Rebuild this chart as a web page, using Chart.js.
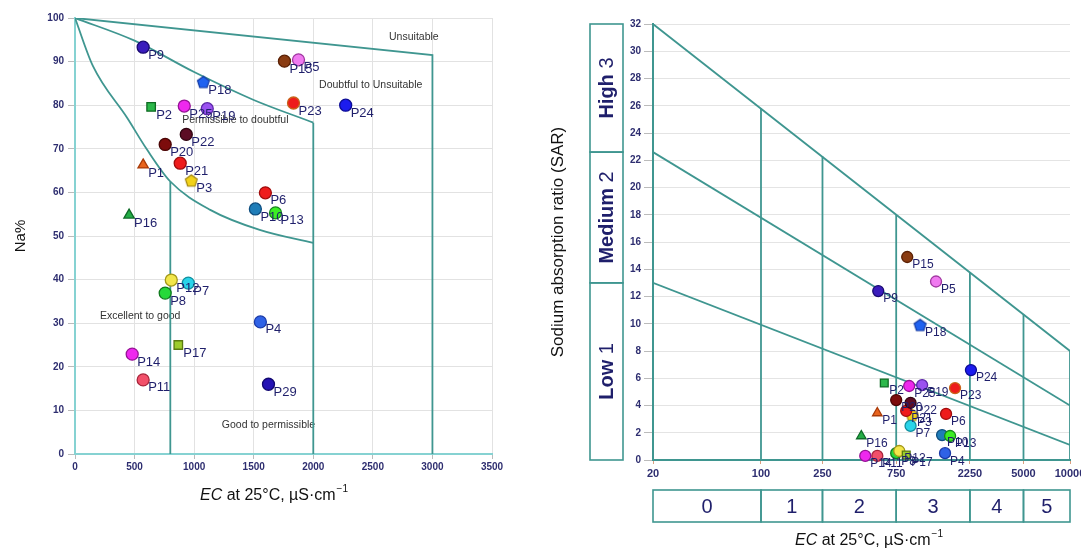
<!DOCTYPE html>
<html>
<head>
<meta charset="utf-8">
<script src="https://cdn.jsdelivr.net/npm/chart.js@4.4.0/dist/chart.umd.min.js"></script>
<style>
body { margin: 0; background: #fff; width: 1081px; height: 552px; overflow: hidden; position: relative; }
#wilcox { position: absolute; left: 0; top: 0; }
#ussl { position: absolute; left: 540px; top: 0; }
</style>
</head>
<body>
<canvas id="wilcox" width="540" height="552"></canvas>
<canvas id="ussl" width="541" height="552"></canvas>
<script>
// sample names and readings
var names = ['P1','P2','P3','P4','P5','P6','P7','P8','P9','P10','P11','P12','P13','P14','P15','P16','P17','P18','P19','P20','P21','P22','P23','P24','P25','P29'];
// Wilcox diagram (EC vs Na%)
var wilcoxEC = [572, 639, 976, 1556, 1876, 1598, 951, 757, 572, 1514, 572, 808, 1683, 480, 1758, 454, 867, 1077, 1110, 757, 883, 934, 1834, 2272, 917, 1624];
var naPercent = [66.3, 79.6, 62.7, 30.3, 90.4, 59.9, 39.2, 36.9, 93.3, 56.2, 17.0, 39.9, 55.3, 22.9, 90.1, 54.8, 25.0, 85.3, 79.2, 71.0, 66.7, 73.3, 80.5, 80.0, 79.8, 16.0];
// USSL diagram (EC vs SAR)
var usslEC = [566, 628, 950, 1553, 1358, 1577, 929, 750, 574, 1486, 566, 785, 1675, 473, 884, 446, 871, 1071, 1104, 750, 871, 929, 1803, 2285, 910, null];
var sar = [3.45, 5.65, 3.3, 0.5, 13.1, 3.38, 2.5, 0.5, 12.4, 1.83, 0.3, 0.66, 1.76, 0.3, 14.9, 1.76, 0.37, 9.9, 5.5, 4.4, 3.6, 4.2, 5.28, 6.6, 5.43, null];

var fills = ['#e8641e','#2cb84a','#f2d21a','#2f62e6','#f07af0','#ee1c1c','#2ad4ea','#26d93a','#3a1cbc','#1f7db8','#f2506a','#f2e64a','#3cee24','#ee28ee','#8a3c12','#24ad46','#9ccc2c','#2062f0','#9a52f0','#7c0c0c','#ee1c1c','#5c0c24','#ee1c1c','#1c1cee','#ee28ee','#2412b4'];
var edges = ['#a83a08','#0e6a22','#a08410','#1a3aa8','#a038a0','#a00c0c','#12909e','#107a1e','#1a0a72','#0f4f80','#a8243a','#a49818','#14861a','#961296','#5a2004','#0f6a28','#5a7a10','#1238a0','#5c28a8','#4a0404','#a00c0c','#300410','#c8641a','#0c0c96','#961296','#120872'];
var shapes = ['triangle','rect','pentagon','circle','circle','circle','circle','circle','circle','circle','circle','circle','circle','circle','circle','triangle','rect','pentagon','circle','circle','circle','circle','circle','circle','circle','circle'];

// Wilcox boundaries [EC, Na%]
var unsuitableEdge = [[0, 100], [3000, 91.5], [3000, 0]];
var doubtfulCurve = [[0, 100], [500, 94.8], [1000, 87.6], [1500, 81.2], [2000, 76]];
var permissibleCurve = [[0, 100], [150, 89], [440, 77], [600, 70], [800, 62.5], [1135, 56], [1550, 51.4], [2000, 48.4]];
var edge800 = [[800, 0], [800, 62.5]];
var edge2000 = [[2000, 0], [2000, 76]];
var zoneNames = ['Unsuitable', 'Doubtful to Unsuitable', 'Permissible to doubtful', 'Excellent to good', 'Good to permissible'];
var zoneAt = [[2844, 95.6], [2482, 84.6], [1346, 76.6], [547, 31.7], [1624, 6.7]];

// USSL boundaries [EC, SAR]
var s1Line = [[20, 13], [10000, 1.1]];
var s2Line = [[20, 22.6], [10000, 4]];
var s3Line = [[20, 32], [10000, 8], [10000, 0]];
var ecBounds = [100, 250, 750, 2250, 5000];
var ecBoundTops = [25.8, 22.3, 18, 13.8, 10.7];
var usslXTicks = [20, 100, 250, 750, 2250, 5000, 10000];
var salinityClasses = ['0', '1', '2', '3', '4', '5'];
var sodiumWords = ['Low', 'Medium', 'High'];
var sodiumNums = ['1', '2', '3'];
var sodiumBounds = [0, 13, 22.6, 32];

var teal = '#3f9690';
var navy = '#1f1f6b';
var FONT = 'Arial, "Liberation Sans", sans-serif';
var tickFont = { family: FONT, size: 10, weight: 'bold' };
var plain = function(v) { return String(v); };

function pts(pairs) {
  return pairs.map(function(p) { return { x: p[0], y: p[1] }; });
}
function boundary(pairs, smooth) {
  return {
    data: pts(pairs), showLine: true, borderColor: teal, borderWidth: 1.8,
    pointRadius: 0, pointHoverRadius: 0, fill: false,
    cubicInterpolationMode: smooth ? 'monotone' : 'default', tension: smooth ? 0.3 : 0
  };
}
function pentagon(fill, edge) {
  var c = document.createElement('canvas');
  c.width = 15; c.height = 15;
  var g = c.getContext('2d');
  g.beginPath();
  for (var k = 0; k < 5; k++) {
    var a = -Math.PI / 2 + k * 2 * Math.PI / 5;
    var px = 7.5 + 6.2 * Math.cos(a), py = 8 + 6.2 * Math.sin(a);
    if (k) g.lineTo(px, py); else g.moveTo(px, py);
  }
  g.closePath();
  g.fillStyle = fill; g.fill();
  g.lineWidth = 1.2; g.strokeStyle = edge; g.stroke();
  return c;
}
var styles = shapes.map(function(s, i) { return s === 'pentagon' ? pentagon(fills[i], edges[i]) : s; });

function pointSet(xs, ys, r) {
  return {
    data: names.map(function(n, i) { return { x: xs[i], y: ys[i] }; }),
    names: names,
    showLine: false,
    pointStyle: styles,
    pointBackgroundColor: fills,
    pointBorderColor: edges,
    pointBorderWidth: 1.3,
    pointRadius: r, pointHoverRadius: r,
    clip: false
  };
}

var pointNames = {
  id: 'pointNames',
  afterDatasetsDraw: function(chart, args, opts) {
    var ctx = chart.ctx;
    chart.data.datasets.forEach(function(ds, di) {
      if (!ds.names) return;
      var meta = chart.getDatasetMeta(di);
      ctx.save();
      ctx.font = opts.size + 'px ' + FONT;
      ctx.fillStyle = navy;
      ctx.textBaseline = 'middle';
      ctx.textAlign = 'left';
      meta.data.forEach(function(el, i) {
        if (el.skip || isNaN(el.x) || isNaN(el.y)) return;
        ctx.fillText(ds.names[i], el.x + 5, el.y + 8);
      });
      ctx.restore();
    });
  }
};

var ecTitle = {
  id: 'ecTitle',
  afterDraw: function(chart, args, opts) {
    var ctx = chart.ctx, a = chart.chartArea;
    var cx = (a.left + a.right) / 2 + opts.dx, cy = a.bottom + opts.dy;
    var p1 = 'EC', p2 = ' at 25\u00B0C, \u00B5S\u00B7cm', p3 = '\u22121';
    ctx.save();
    ctx.fillStyle = '#111';
    ctx.textBaseline = 'middle';
    ctx.textAlign = 'left';
    ctx.font = 'italic 16px ' + FONT; var w1 = ctx.measureText(p1).width;
    ctx.font = '16px ' + FONT; var w2 = ctx.measureText(p2).width;
    ctx.font = '10px ' + FONT; var w3 = ctx.measureText(p3).width;
    var x = cx - (w1 + w2 + w3) / 2;
    ctx.font = 'italic 16px ' + FONT; ctx.fillText(p1, x, cy);
    ctx.font = '16px ' + FONT; ctx.fillText(p2, x + w1, cy);
    ctx.font = '10px ' + FONT; ctx.fillText(p3, x + w1 + w2 + 1, cy - 7);
    ctx.restore();
  }
};

var zoneText = {
  id: 'zoneText',
  beforeDatasetsDraw: function(chart) {
    var ctx = chart.ctx, xs = chart.scales.x, ys = chart.scales.y;
    ctx.save();
    ctx.font = '10.5px ' + FONT;
    ctx.fillStyle = '#333';
    ctx.textAlign = 'center';
    ctx.textBaseline = 'middle';
    zoneNames.forEach(function(t, k) {
      ctx.fillText(t, xs.getPixelForValue(zoneAt[k][0]), ys.getPixelForValue(zoneAt[k][1]));
    });
    ctx.restore();
  }
};

var classBoxes = {
  id: 'classBoxes',
  afterDraw: function(chart) {
    var ctx = chart.ctx, xs = chart.scales.x, ys = chart.scales.y, a = chart.chartArea;
    ctx.save();
    ctx.strokeStyle = teal;
    ctx.lineWidth = 1.6;
    ctx.fillStyle = navy;
    ctx.textBaseline = 'middle';
    // sodium hazard boxes
    var bx = a.left - 63, bw = 33;
    for (var k = 0; k < sodiumWords.length; k++) {
      var y0 = ys.getPixelForValue(sodiumBounds[k]), y1 = ys.getPixelForValue(sodiumBounds[k + 1]);
      ctx.strokeRect(bx, y1, bw, y0 - y1);
      ctx.save();
      ctx.translate(bx + bw / 2 + 1, (y0 + y1) / 2);
      ctx.rotate(-Math.PI / 2);
      ctx.font = 'bold 20px ' + FONT; var ww = ctx.measureText(sodiumWords[k] + ' ').width;
      ctx.font = '20px ' + FONT; var wn = ctx.measureText(sodiumNums[k]).width;
      ctx.textAlign = 'left';
      ctx.font = 'bold 20px ' + FONT; ctx.fillText(sodiumWords[k], -(ww + wn) / 2, 0);
      ctx.font = '20px ' + FONT; ctx.fillText(sodiumNums[k], -(ww + wn) / 2 + ww, 0);
      ctx.restore();
    }
    // salinity hazard boxes
    var top = a.bottom + 30, h = 32;
    ctx.font = '20px ' + FONT;
    ctx.textAlign = 'center';
    for (var j = 0; j < salinityClasses.length; j++) {
      var x0 = xs.getPixelForValue(usslXTicks[j]), x1 = xs.getPixelForValue(usslXTicks[j + 1]);
      ctx.strokeRect(x0, top, x1 - x0, h);
      ctx.fillText(salinityClasses[j], (x0 + x1) / 2, top + h / 2 + 1);
    }
    ctx.restore();
  }
};

Chart.defaults.font.family = FONT;
Chart.defaults.animation = false;

new Chart(document.getElementById('wilcox'), {
  type: 'scatter',
  data: {
    datasets: [
      pointSet(wilcoxEC, naPercent, 6),
      boundary(unsuitableEdge, false),
      boundary(doubtfulCurve, true),
      boundary(permissibleCurve, true),
      boundary(edge800, false),
      boundary(edge2000, false)
    ]
  },
  options: {
    responsive: false,
    events: [],
    layout: { padding: { left: 0, top: 18, right: 48, bottom: 0 } },
    plugins: {
      legend: { display: false }, tooltip: { enabled: false },
      pointNames: { size: 13 },
      ecTitle: { dx: -10, dy: 42 }
    },
    scales: {
      x: {
        type: 'linear', min: 0, max: 3500,
        ticks: { stepSize: 500, font: tickFont, color: '#2e2e70', padding: 2, maxRotation: 0, callback: plain },
        grid: { color: '#e2e2e2', tickLength: 5, tickColor: '#bbb' },
        border: { color: '#86d2d2', width: 2 },
        afterFit: function(s) { s.height = 98; s.paddingLeft = 0; s.paddingRight = 0; }
      },
      y: {
        min: 0, max: 100,
        ticks: { stepSize: 10, font: tickFont, color: '#2e2e70', padding: 4, callback: plain },
        grid: { color: '#e2e2e2', tickLength: 7, tickColor: '#bbb' },
        border: { color: '#86d2d2', width: 2 },
        title: { display: true, text: 'Na%', font: { family: FONT, size: 15 }, color: '#111', padding: { top: 12, bottom: 4 } },
        afterFit: function(s) { s.width = 75; s.paddingTop = 0; s.paddingBottom = 0; }
      }
    }
  },
  plugins: [zoneText, pointNames, ecTitle]
});

var verticals = ecBounds.map(function(v, k) { return boundary([[v, 0], [v, ecBoundTops[k]]], false); });

new Chart(document.getElementById('ussl'), {
  type: 'scatter',
  data: {
    datasets: [
      pointSet(usslEC, sar, 5.5),
      boundary(s1Line, false),
      boundary(s2Line, false),
      boundary(s3Line, false)
    ].concat(verticals)
  },
  options: {
    responsive: false,
    events: [],
    layout: { padding: { left: 0, top: 24, right: 11, bottom: 0 } },
    plugins: {
      legend: { display: false }, tooltip: { enabled: false },
      pointNames: { size: 12 },
      ecTitle: { dx: 7, dy: 81 }
    },
    scales: {
      x: {
        type: 'logarithmic', min: 20, max: 10000,
        afterBuildTicks: function(s) { s.ticks = usslXTicks.map(function(v) { return { value: v }; }); },
        ticks: {
          autoSkip: false, maxRotation: 0, font: { family: FONT, size: 11, weight: 'bold' }, color: '#2e2e70', padding: 3,
          callback: plain
        },
        grid: { drawOnChartArea: false, tickLength: 4, tickColor: '#d9a080' },
        border: { color: teal, width: 2 },
        afterFit: function(s) { s.height = 92; s.paddingLeft = 0; s.paddingRight = 0; }
      },
      y: {
        min: 0, max: 32,
        ticks: { stepSize: 2, font: tickFont, color: '#2e2e70', padding: 3 },
        grid: { color: '#e4e4e4', tickLength: 9, tickColor: '#bbb' },
        border: { color: teal, width: 2 },
        title: { display: true, text: 'Sodium absorption ratio (SAR)', font: { family: FONT, size: 17 }, color: '#111', padding: { top: 8, bottom: 4 } },
        afterFit: function(s) { s.width = 113; s.paddingTop = 0; s.paddingBottom = 0; }
      }
    }
  },
  plugins: [pointNames, ecTitle, classBoxes]
});
</script>
</body>
</html>
